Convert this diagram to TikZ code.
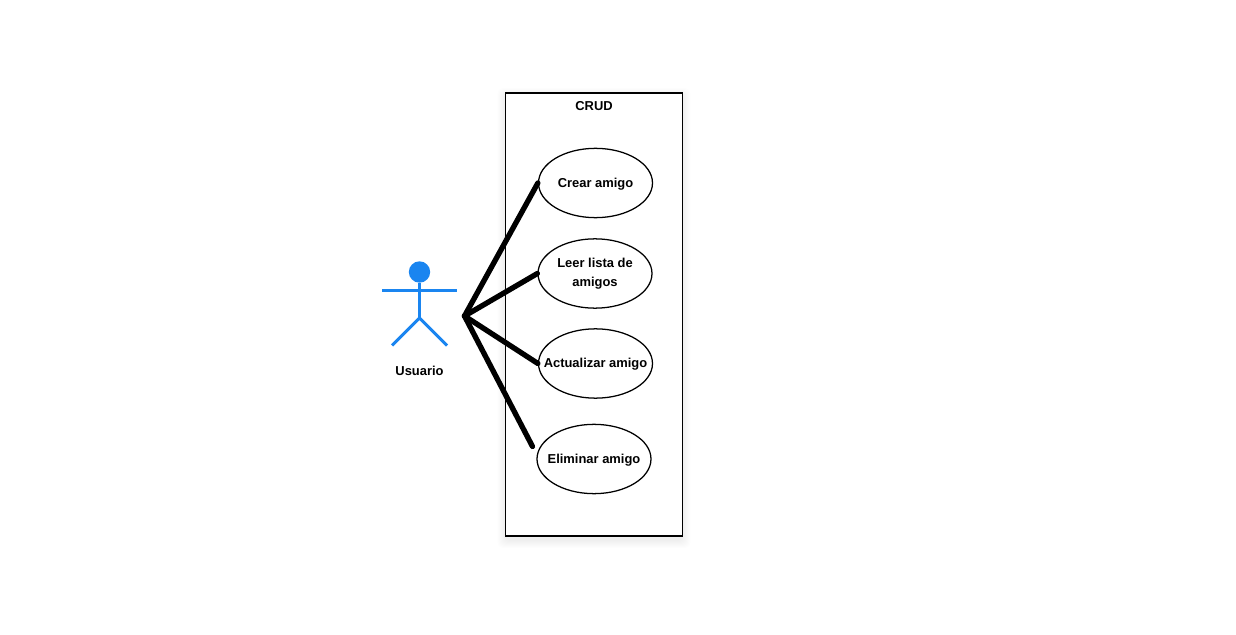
\documentclass[tikz,border=0pt]{standalone}
\usepackage{fontspec}
\setmainfont{Liberation Sans}
\usetikzlibrary{shapes.geometric}
\definecolor{actorblue}{HTML}{1A85F0}
\begin{document}
\begin{tikzpicture}
                [x=0.75pt, y=-0.75pt,
                usecase/.style={ellipse, draw, line width=0.95pt, fill=white, minimum width=85.5pt, minimum height=52pt, inner xsep=-16pt, inner ysep=-8pt, align=center, font=\bfseries\fontsize{9.7}{14.5}\selectfont},
                oneline/.style={usecase, text height=7.5pt, text depth=1pt},
                label/.style={inner sep=0pt, font=\bfseries\fontsize{9.7}{15}\selectfont},
                limb/.style={draw=actorblue, line width=2.2pt},
                link/.style={draw, line width=4pt, line cap=round}]
                \useasboundingbox (0,0) rectangle (1236,635);
                % Define shadow and system box
                \foreach \s in {1,...,8}
                    \fill[black, opacity=0.006, rounded corners=4pt] (505.5-\s,96-\s) rectangle (682.5+\s,540+\s);
                \node[draw, fill=white, line width=1.2pt, minimum width=132.75pt, minimum height=332.25pt, inner sep=0pt] (crud) at (594,314.5) {};
                \node[label] (crudtitle) at (594,106.5) {CRUD};
                % Define use cases
                \node[oneline] (crear) at (595.5,183) {Crear amigo};
                \node[usecase] (leer) at (595,273.5) {Leer lista de\\amigos};
                \node[oneline] (actualizar) at (595.5,363.5) {Actualizar amigo};
                \node[oneline] (eliminar) at (594,459) {Eliminar amigo};
                % Define actor
                \node[circle, fill=actorblue, minimum size=16pt, inner sep=0pt] (head) at (419.5,272) {};
                \coordinate (hip) at (419.5,318);
                \coordinate (armL) at (382,290.5);
                \coordinate (armR) at (456.5,290.5);
                \coordinate (legL) at (392,345.5);
                \coordinate (legR) at (447,345.5);
                \draw[limb] (head) -- (hip);
                \draw[limb] (armL) -- (armR);
                \draw[limb] (legL) -- (hip) -- (legR);
                \node[label] (usuario) at (419.5,370.5) {Usuario};
                % Define links
                \coordinate (hub) at (464.5,316);
                \coordinate (elimEnd) at (532.5,446.5);
                \draw[link] (hub) -- (crear.west);
                \draw[link] (hub) -- (leer.west);
                \draw[link] (hub) -- (actualizar.west);
                \draw[link] (hub) -- (elimEnd);
            \end{tikzpicture}
\end{document}
